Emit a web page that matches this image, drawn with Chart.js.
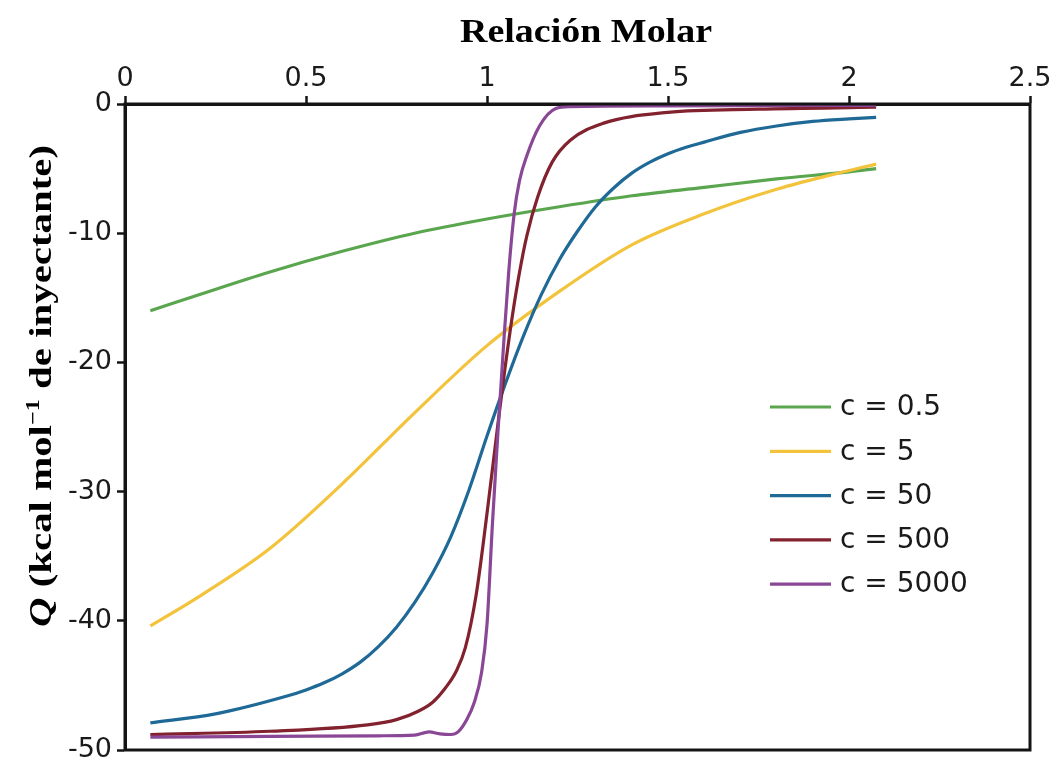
<!DOCTYPE html>
<html><head><meta charset="utf-8">
<script src="https://cdn.jsdelivr.net/npm/chart.js@4/dist/chart.umd.min.js"></script>
<style>html,body{margin:0;padding:0;background:#fff}#wrap{width:1055px;height:761px}</style>
</head><body><div id="wrap"><canvas id="c" width="1055" height="761"></canvas></div>
<script>
// ---- data ----
const seriesLabels = ['c = 0.5', 'c = 5', 'c = 50', 'c = 500', 'c = 5000'];
const seriesColors = ['#5aa64e', '#f3c33c', '#1f6997', '#82222f', '#8a4795'];
const xTicks = [0, 0.5, 1, 1.5, 2, 2.5];
const yTicks = [0, -10, -20, -30, -40, -50];
const xTitle = 'Relación Molar';

const c05X = [0.07, 0.2, 0.4, 0.6, 0.8, 1.0, 1.2, 1.4, 1.6, 1.8, 2.0, 2.075];
const c05Y = [-16.0, -14.8, -13.0, -11.4, -10.0, -8.9, -7.95, -7.1, -6.45, -5.8, -5.25, -5.0];

const c5X = [0.07, 0.2, 0.4, 0.6, 0.8, 1.0, 1.2, 1.4, 1.6, 1.8, 2.0, 2.075];
const c5Y = [-40.4, -38.2, -34.4, -29.4, -23.9, -18.7, -14.5, -10.9, -8.5, -6.6, -5.15, -4.65];

const c50X = [0.07, 0.25, 0.45, 0.5, 0.55, 0.6, 0.65, 0.7, 0.75, 0.8, 0.85, 0.9, 0.95, 1.0, 1.05, 1.1, 1.15, 1.2, 1.25, 1.3, 1.35, 1.4, 1.45, 1.5, 1.55, 1.6, 1.7, 1.8, 1.9, 2.0, 2.075];
const c50Y = [-47.9, -47.2, -45.8, -45.35, -44.8, -44.1, -43.2, -42.0, -40.5, -38.6, -36.3, -33.5, -29.9, -25.7, -21.7, -18.0, -14.75, -12.05, -9.85, -7.95, -6.5, -5.35, -4.5, -3.85, -3.35, -2.95, -2.2, -1.7, -1.35, -1.15, -1.03];

const c500X = [0.07, 0.4, 0.67, 0.75, 0.81, 0.85, 0.885, 0.915, 0.94, 0.97, 1.0, 1.03, 1.05, 1.07, 1.09, 1.11, 1.14, 1.18, 1.23, 1.32, 1.5, 1.75, 2.075];
const c500Y = [-48.8, -48.55, -48.05, -47.65, -47.0, -46.3, -45.2, -43.9, -42.1, -38.0, -31.7, -24.8, -20.4, -16.4, -13.0, -10.2, -7.2, -4.5, -2.8, -1.5, -0.65, -0.4, -0.25];

const c5000X = [0.07, 0.4, 0.7, 0.8, 0.84, 0.87, 0.9, 0.92, 0.945, 0.965, 0.985, 1.0, 1.015, 1.03, 1.045, 1.06, 1.075, 1.09, 1.11, 1.145, 1.19, 1.23, 1.5, 2.075];
const c5000Y = [-49.0, -48.95, -48.9, -48.85, -48.6, -48.75, -48.8, -48.6, -47.6, -46.3, -44.0, -40.3, -32.5, -25.5, -19.0, -13.0, -8.5, -5.9, -4.0, -1.7, -0.35, -0.2, -0.15, -0.1];

const seriesX = [c05X, c5X, c50X, c500X, c5000X];
const seriesY = [c05Y, c5Y, c50Y, c500Y, c5000Y];

// ---- chart ----
const TICK_FONT = {family: "'DejaVu Sans', sans-serif", size: 27};
const datasets = seriesLabels.map((lab, i) => ({
  label: lab,
  data: seriesX[i].map((x, j) => ({x: x, y: seriesY[i][j]})),
  borderColor: seriesColors[i],
  backgroundColor: seriesColors[i],
  borderWidth: 3.2,
  pointRadius: 0,
  fill: false,
  cubicInterpolationMode: 'monotone',
  order: seriesLabels.length - 1 - i,
  clip: 4
}));

const framePlugin = {
  id: 'frame',
  afterDraw(chart) {
    const ctx = chart.ctx, a = chart.chartArea;
    ctx.save();
    ctx.strokeStyle = '#141414';
    ctx.lineWidth = 3;
    ctx.strokeRect(a.left, a.top, a.right - a.left, a.bottom - a.top);
    ctx.restore();
  }
};

const legendPlugin = {
  id: 'customLegend',
  afterDraw(chart) {
    const ctx = chart.ctx;
    ctx.save();
    ctx.font = "28px 'DejaVu Sans', sans-serif";
    ctx.textBaseline = 'middle';
    chart.data.datasets.forEach((ds, i) => {
      const y = 407 + i * 44.3;
      ctx.strokeStyle = ds.borderColor;
      ctx.lineWidth = 3.2;
      ctx.beginPath(); ctx.moveTo(770, y); ctx.lineTo(831, y); ctx.stroke();
      ctx.fillStyle = '#1a1a1a';
      ctx.fillText(ds.label, 840, y + 1);
    });
    ctx.restore();
  }
};

const titlesPlugin = {
  id: 'titles',
  afterDraw(chart) {
    const ctx = chart.ctx;
    ctx.save();
    ctx.fillStyle = '#000';
    // x title (top)
    ctx.font = "bold 34px 'Liberation Serif', 'Times New Roman', serif";
    ctx.textBaseline = 'alphabetic';
    let w = ctx.measureText(xTitle).width;
    ctx.save();
    ctx.translate(460, 42);
    ctx.scale(252 / w, 1);
    ctx.fillText(xTitle, 0, 0);
    ctx.restore();
    // y title (rotated)
    const parts = [
      {t: 'Q', f: "italic bold 32px 'Liberation Serif', serif", dy: 0},
      {t: ' (kcal mol', f: "bold 32px 'Liberation Serif', serif", dy: 0},
      {t: '\u22121', f: "bold 19px 'Liberation Serif', serif", dy: -12},
      {t: ' de inyectante)', f: "bold 32px 'Liberation Serif', serif", dy: 0}
    ];
    let total = 0;
    parts.forEach(p => { ctx.font = p.f; p.w = ctx.measureText(p.t).width; total += p.w; });
    const target = 482;
    ctx.translate(51, 627);
    ctx.rotate(-Math.PI / 2);
    ctx.scale(target / total, 1);
    let x = 0;
    parts.forEach(p => { ctx.font = p.f; ctx.fillText(p.t, x, p.dy); x += p.w; });
    ctx.restore();
  }
};

new Chart(document.getElementById('c'), {
  type: 'line',
  data: {datasets: datasets},
  options: {
    responsive: false,
    animation: false,
    devicePixelRatio: 1,
    layout: {padding: {left: 0, right: 25, top: 0, bottom: 11}},
    plugins: {legend: {display: false}, tooltip: {enabled: false}},
    scales: {
      x: {
        type: 'linear', position: 'top', min: 0, max: 2.5,
        afterBuildTicks: s => { s.ticks = xTicks.map(v => ({value: v})); },
        afterFit: s => { s.height = 104; s.paddingLeft = 0; s.paddingRight = 0; },
        ticks: {font: TICK_FONT, color: '#1a1a1a', padding: 1, maxRotation: 0,
                callback: v => String(v)},
        grid: {drawOnChartArea: false, tickLength: 8, tickColor: '#141414', tickWidth: 2.5},
        border: {display: true, color: '#141414', width: 3}
      },
      y: {
        type: 'linear', position: 'left', min: -50, max: 0,
        afterBuildTicks: s => { s.ticks = yTicks.map(v => ({value: v})); },
        afterFit: s => { s.width = 125; s.paddingTop = 0; s.paddingBottom = 0; },
        ticks: {font: TICK_FONT, color: '#1a1a1a', padding: 5,
                callback: v => String(v)},
        grid: {drawOnChartArea: false, tickLength: 8, tickColor: '#141414', tickWidth: 2.5},
        border: {display: true, color: '#141414', width: 3}
      }
    }
  },
  plugins: [framePlugin, legendPlugin, titlesPlugin]
});
</script>
</body></html>
